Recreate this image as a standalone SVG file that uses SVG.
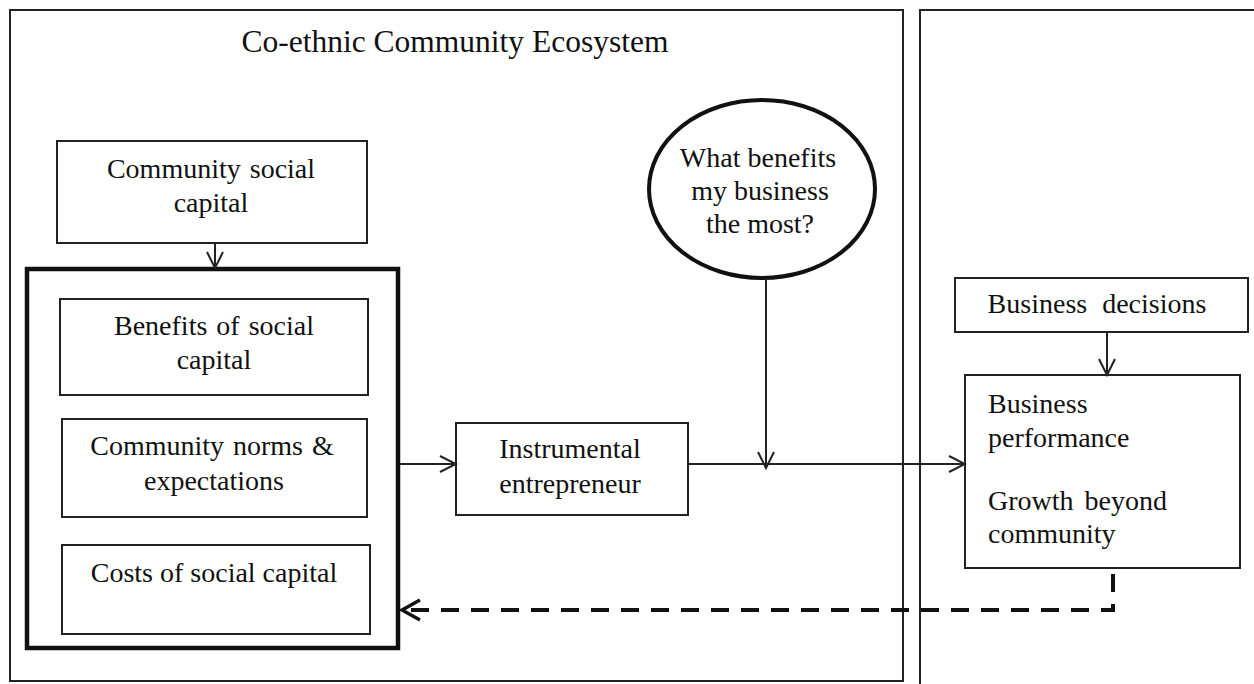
<svg xmlns="http://www.w3.org/2000/svg" width="1254" height="684" viewBox="0 0 1254 684">
<style>
text{font-family:"Liberation Serif","Times New Roman",serif;font-size:28px;fill:#111}
.box{fill:#fff;stroke:#222;stroke-width:2}
.frame{fill:none;stroke:#222;stroke-width:2}
.ln{fill:none;stroke:#222;stroke-width:2}
.dash{fill:none;stroke:#111;stroke-width:4;stroke-dasharray:18 12}
.c{text-anchor:middle}
.ws{word-spacing:2px}
</style>
<defs>
<marker id="ah" markerUnits="userSpaceOnUse" markerWidth="20" markerHeight="20" viewBox="0 0 20 20" refX="18" refY="10" orient="auto">
<path d="M2,2 L18,10 L2,18" fill="none" stroke="#222" stroke-width="2"/>
</marker>
<marker id="ahd" markerUnits="userSpaceOnUse" markerWidth="24" markerHeight="26" viewBox="0 0 24 26" refX="21" refY="13" orient="auto">
<path d="M3,3 L21,13 L3,23" fill="none" stroke="#111" stroke-width="3.5"/>
</marker>
</defs>
<rect width="1254" height="684" fill="#fff"/>
<g id="frame-ecosystem">
<rect class="frame" x="10" y="10" width="893" height="671"/>
<text class="c" x="455" y="52" style="font-size:31.5px">Co-ethnic Community Ecosystem</text>
</g>
<g id="frame-right">
<path class="frame" d="M920,690 L920,10 L1260,10"/>
</g>
<g id="node-community-social-capital">
<rect class="box" x="57" y="141" width="310" height="102"/>
<text class="c ws" x="211" y="178">Community social</text>
<text class="c" x="211" y="212">capital</text>
</g>
<g id="node-social-capital-group">
<rect x="27" y="269" width="371" height="379" fill="none" stroke="#111" stroke-width="4.5"/>
</g>
<g id="node-benefits">
<rect class="box" x="60" y="299" width="308" height="96"/>
<text class="c ws" x="214" y="335">Benefits of social</text>
<text class="c" x="214" y="369">capital</text>
</g>
<g id="node-norms">
<rect class="box" x="62" y="419" width="305" height="98"/>
<text class="c ws" x="212" y="455">Community norms &amp;</text>
<text class="c" x="214" y="490">expectations</text>
</g>
<g id="node-costs">
<rect class="box" x="62" y="545" width="308" height="89"/>
<text class="c" x="214" y="582">Costs of social capital</text>
</g>
<g id="node-instrumental">
<rect class="box" x="456" y="423" width="232" height="92"/>
<text class="c" x="570" y="458">Instrumental</text>
<text class="c" x="570" y="493">entrepreneur</text>
</g>
<g id="node-question">
<ellipse cx="762" cy="189" rx="113" ry="89" fill="#fff" stroke="#111" stroke-width="4"/>
<text class="c" x="758" y="167">What benefits</text>
<text class="c" x="760" y="200">my business</text>
<text class="c" x="760" y="233">the most?</text>
</g>
<g id="node-business-decisions">
<rect class="box" x="955" y="278" width="293" height="54"/>
<text class="c" x="1097" y="313" style="word-spacing:8px">Business decisions</text>
</g>
<g id="node-business-performance">
<rect class="box" x="965" y="375" width="275" height="193"/>
<text x="988" y="413">Business</text>
<text x="988" y="447">performance</text>
<text x="988" y="510" style="word-spacing:4px">Growth beyond</text>
<text x="988" y="543">community</text>
</g>
<g id="connectors">
<line class="ln" x1="215" y1="243" x2="215" y2="268" marker-end="url(#ah)"/>
<line class="ln" x1="400" y1="464" x2="456" y2="464" marker-end="url(#ah)"/>
<line class="ln" x1="688" y1="464" x2="965" y2="464" marker-end="url(#ah)"/>
<line class="ln" x1="766" y1="278" x2="766" y2="468" marker-end="url(#ah)"/>
<line class="ln" x1="1107" y1="333" x2="1107" y2="375" marker-end="url(#ah)"/>
<path class="dash" d="M1113,574 L1113,610 L402,610" marker-end="url(#ahd)"/>
</g>
</svg>
